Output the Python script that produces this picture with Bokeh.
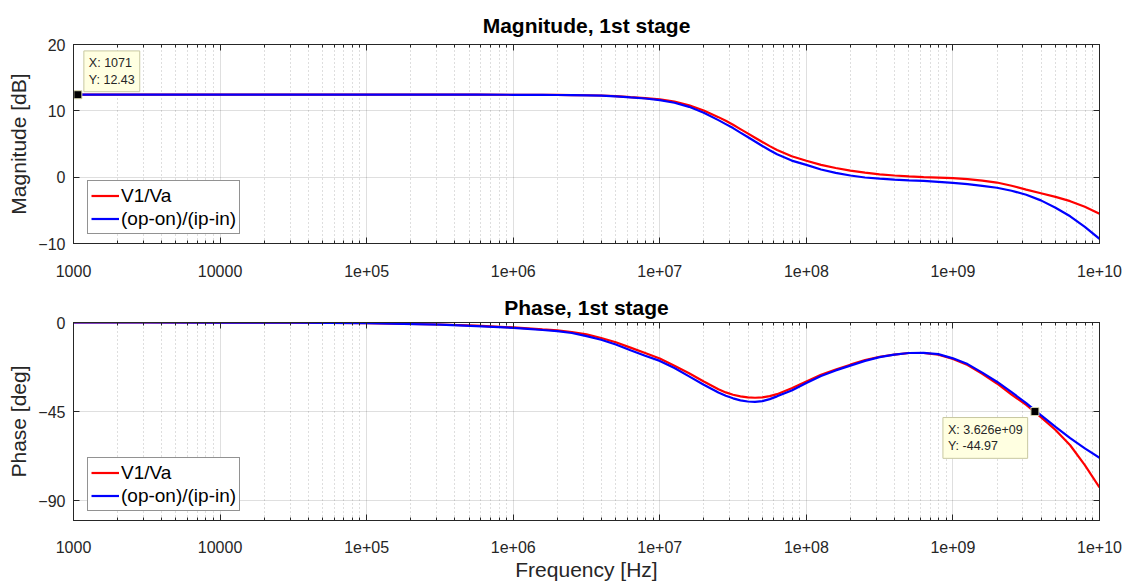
from bokeh.plotting import figure
from bokeh.layouts import column
from bokeh.models import FixedTicker, CustomJSTickFormatter, LogAxis, LinearAxis, Label
from bokeh.embed import file_html
from bokeh.resources import INLINE

# ---------------- data ----------------
log_freq = [3.0, 3.5, 4.0, 4.5, 5.0, 5.5, 5.75,
            6.0, 6.1, 6.2, 6.3, 6.4, 6.5, 6.6, 6.7, 6.8, 6.9,
            7.0, 7.1, 7.2, 7.3, 7.4,
            7.45, 7.5, 7.55, 7.6, 7.65, 7.7, 7.75, 7.8,
            7.9, 8.0, 8.1, 8.2, 8.3, 8.4, 8.5, 8.6, 8.7, 8.8, 8.9,
            9.0, 9.1, 9.2, 9.3, 9.4, 9.5, 9.6, 9.7, 9.8, 9.9, 10.0]
freq_hz = [10 ** v for v in log_freq]

mag_v1_va = [12.43, 12.43, 12.43, 12.43, 12.43, 12.43, 12.43,
             12.42, 12.42, 12.41, 12.40, 12.38, 12.35, 12.31, 12.22, 12.06, 11.92,
             11.72, 11.40, 10.85, 10.05, 9.05,
             8.50, 7.90, 7.25, 6.60, 5.95, 5.30, 4.68, 4.10,
             3.15, 2.47, 1.85, 1.38, 0.98, 0.68, 0.43, 0.25, 0.12, 0.02, -0.06,
             -0.15, -0.30, -0.52, -0.81, -1.30, -1.88, -2.42, -2.97, -3.62, -4.45, -5.5]
mag_op_ip = [12.43, 12.43, 12.43, 12.43, 12.43, 12.43, 12.43,
             12.42, 12.42, 12.41, 12.39, 12.37, 12.33, 12.29, 12.19, 12.02, 11.86,
             11.62, 11.22, 10.60, 9.70, 8.60,
             8.00, 7.40, 6.72, 6.05, 5.37, 4.70, 4.05, 3.45,
             2.50, 1.85, 1.15, 0.65, 0.25, -0.05, -0.22, -0.36, -0.47, -0.57, -0.70,
             -0.86, -1.05, -1.30, -1.60, -2.05, -2.65, -3.50, -4.60, -5.90, -7.50, -9.3]

phase_v1_va = [0.0, 0.0, -0.05, -0.12, -0.35, -1.0, -1.6,
               -2.5, -2.95, -3.5, -4.0, -4.8, -6.0, -7.8, -10.0, -12.7, -15.4,
               -18.2, -21.8, -25.6, -29.8, -33.7,
               -35.3, -36.5, -37.3, -37.8, -38.0, -37.8, -37.2, -36.2,
               -33.2, -29.8, -26.4, -23.8, -21.3, -19.0, -17.3, -16.2, -15.4, -15.4, -16.3,
               -18.4, -21.5, -25.9, -30.8, -36.4, -41.6, -47.8, -54.3, -62.0, -72.0, -83.3]
phase_op_ip = [0.0, 0.0, -0.05, -0.12, -0.38, -1.1, -1.8,
               -2.7, -3.2, -3.8, -4.4, -5.3, -6.9, -8.7, -11.1, -14.0, -16.8,
               -19.4, -23.0, -27.2, -31.4, -35.4,
               -37.0, -38.3, -39.3, -39.9, -40.1, -39.7, -38.7, -37.3,
               -34.3, -30.6, -27.0, -24.2, -21.8, -19.4, -17.5, -16.2, -15.4, -15.3, -16.0,
               -18.1, -21.0, -25.3, -29.9, -35.2, -40.7, -46.8, -52.7, -58.4, -63.6, -68.3]

series_labels = ["V1/Va", "(op-on)/(ip-in)"]
series_colors = ["#FF0000", "#0000FF"]

x_ticks = [1e3, 1e4, 1e5, 1e6, 1e7, 1e8, 1e9, 1e10]
x_tick_labels = ["1000", "10000", "1e+05", "1e+06", "1e+07", "1e+08", "1e+09", "1e+10"]
x_minor_ticks = [m * 10 ** d for d in range(3, 10) for m in range(2, 10)]
mag_ticks = [-10, 0, 10, 20]
phase_ticks = [-90, -45, 0]

tip_mag = (1071, 12.43)
tip_phase = (3.626e9, -44.97)

FONT = "Liberation Sans"
AX = "#262626"


def make_fig(title, ylabel, yrange, yticks, data, height, top_border, bottom_border,
             title_standoff, tick_standoff, xlabel=None):
    p = figure(width=1130, height=height, x_axis_type="log", x_range=(1e3, 1e10),
               y_range=yrange, output_backend="svg", toolbar_location=None,
               min_border_left=73, min_border_right=31, min_border_top=top_border,
               min_border_bottom=bottom_border, title=title)
    p.title.text_font = FONT
    p.title.text_font_size = "21px"
    p.title.text_font_style = "bold"
    p.title.align = "center"
    p.title.text_color = "#000000"
    p.title.standoff = title_standoff

    xt = FixedTicker(ticks=x_ticks, minor_ticks=x_minor_ticks)
    yt = FixedTicker(ticks=yticks, minor_ticks=[])
    fmt = CustomJSTickFormatter(args=dict(tv=x_ticks, tl=x_tick_labels), code="""
        for (let i = 0; i < tv.length; i++) {
            if (Math.abs(Math.log10(tv[i]) - Math.log10(tick)) < 1e-6) return tl[i];
        }
        return "";
    """)
    blank = CustomJSTickFormatter(code="return '';")

    for ax in [p.xaxis[0], p.yaxis[0]]:
        ax.axis_line_color = AX
        ax.major_tick_line_color = AX
        ax.minor_tick_line_color = AX
        ax.major_tick_in = 6
        ax.major_tick_out = 0
        ax.minor_tick_in = 3
        ax.minor_tick_out = 0
        ax.major_label_text_font = FONT
        ax.major_label_text_font_size = "16px"
        ax.major_label_text_color = AX
        ax.axis_label_text_font = FONT
        ax.axis_label_text_font_size = "21px"
        ax.axis_label_text_font_style = "normal"
        ax.axis_label_text_color = AX

    p.xaxis[0].ticker = xt
    p.xaxis[0].formatter = fmt
    p.xaxis[0].major_label_standoff = tick_standoff
    p.yaxis[0].ticker = yt
    p.yaxis[0].major_label_standoff = 8
    p.yaxis[0].axis_label = ylabel
    p.yaxis[0].axis_label_standoff = 5
    if xlabel:
        p.xaxis[0].axis_label = xlabel
        p.xaxis[0].axis_label_standoff = 2

    # box axes (top / right) with inward ticks and no labels
    top = LogAxis(ticker=xt, formatter=blank, major_label_text_font_size="0px",
                  major_label_standoff=0, axis_line_color=AX, major_tick_line_color=AX,
                  minor_tick_line_color=AX, major_tick_in=6, major_tick_out=0,
                  minor_tick_in=3, minor_tick_out=0)
    right = LinearAxis(ticker=yt, formatter=blank, major_label_text_font_size="0px",
                       major_label_standoff=0, axis_line_color=AX, major_tick_line_color=AX,
                       major_tick_in=6, major_tick_out=0, minor_tick_in=0, minor_tick_out=0)
    p.add_layout(top, "above")
    p.add_layout(right, "right")

    p.xgrid.ticker = xt
    p.xgrid.grid_line_color = AX
    p.xgrid.grid_line_alpha = 0.15
    p.xgrid.minor_grid_line_color = AX
    p.xgrid.minor_grid_line_alpha = 0.3
    p.xgrid.minor_grid_line_dash = "1 3"
    p.ygrid.ticker = yt
    p.ygrid.grid_line_color = AX
    p.ygrid.grid_line_alpha = 0.15
    p.outline_line_color = AX

    for ys, lab, col in zip(data, series_labels, series_colors):
        p.line(freq_hz, ys, line_color=col, line_width=2.2, legend_label=lab)

    lg = p.legend[0]
    lg.location = (14, 9)
    lg.margin = 0
    lg.padding = 3
    lg.spacing = 0
    lg.glyph_width = 28
    lg.glyph_height = 23
    lg.label_height = 23
    lg.label_standoff = 2
    lg.label_text_font = FONT
    lg.label_text_font_size = "19px"
    lg.label_text_color = "#000000"
    lg.border_line_color = AX
    lg.border_line_width = 1
    lg.background_fill_alpha = 1.0
    return p


p1 = make_fig("Magnitude, 1st stage", "Magnitude [dB]", (-10, 20), mag_ticks,
              [mag_v1_va, mag_op_ip], 285, 44, 42, 16, 21)
p2 = make_fig("Phase, 1st stage", "Phase [deg]", (-100, 0), phase_ticks,
              [phase_v1_va, phase_op_ip], 301, 37, 66, 8, 20, xlabel="Frequency [Hz]")

# data tips
p1.scatter([tip_mag[0]], [tip_mag[1]], marker="square", size=8, fill_color="black",
           line_color="#d8d8b0", line_width=1)
p1.add_layout(Label(x=tip_mag[0], y=tip_mag[1], text=f"X: {tip_mag[0]:g}\nY: {tip_mag[1]:.4g}",
                    text_font=FONT, text_font_size="12.5px", text_color=AX,
                    text_align="left", text_baseline="bottom", x_offset=6, y_offset=3,
                    background_fill_color="#FFFFE1", border_line_color="#c8c8a0",
                    padding=5))
p2.scatter([tip_phase[0]], [tip_phase[1]], marker="square", size=8, fill_color="black",
           line_color="#d8d8b0", line_width=1)
p2.add_layout(Label(x=tip_phase[0], y=tip_phase[1],
                    text=f"X: {tip_phase[0]:.4g}\nY: {tip_phase[1]:.4g}",
                    text_font=FONT, text_font_size="12.5px", text_color=AX,
                    text_align="left", text_baseline="top", x_offset=-92, y_offset=-6,
                    background_fill_color="#FFFFE1", border_line_color="#c8c8a0",
                    padding=5))

layout = column(p1, p2, spacing=0)
open("out.html", "w").write(file_html(layout, INLINE))
